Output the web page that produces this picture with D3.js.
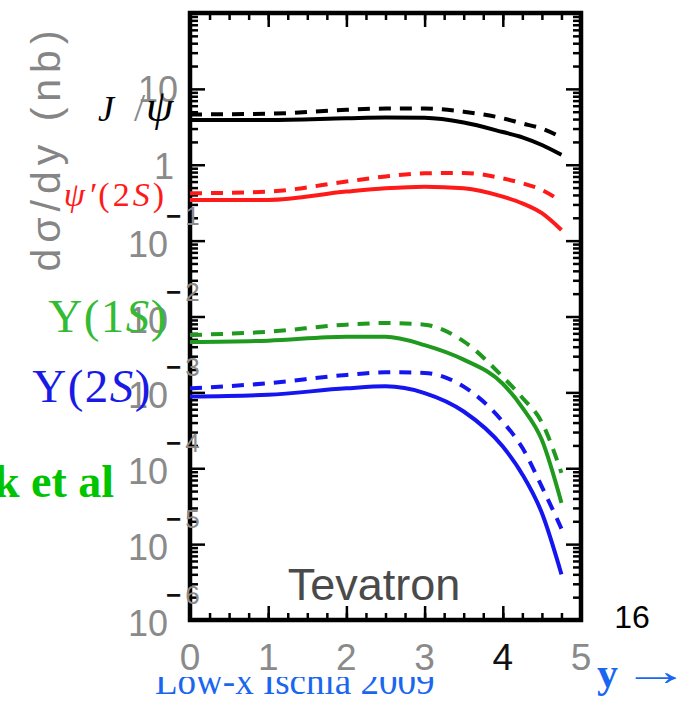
<!DOCTYPE html>
<html>
<head>
<meta charset="utf-8">
<script src="https://cdn.jsdelivr.net/npm/d3@7"></script>
<style>
  body { margin: 0; background: #fff; }
  svg { display: block; }
</style>
</head>
<body>
<svg id="chart"></svg>
<script>
// rapidity grid and d(sigma)/dy in nb
const rapidity = [0, 1, 2, 2.5, 3, 3.5, 4, 4.25, 4.5, 4.75];
const jpsiSolid = [3.9, 3.9, 4.1, 4.2, 4.15, 3.6, 2.7, 2.3, 1.82, 1.35];
const jpsiDashed = [4.6, 4.7, 5.3, 5.5, 5.5, 5.0, 4.1, 3.5, 3.0, 2.3];
const psi2sSolid = [0.344, 0.344, 0.443, 0.49, 0.514, 0.49, 0.38, 0.31, 0.23, 0.138];
const psi2sDashed = [0.42, 0.443, 0.60, 0.70, 0.77, 0.78, 0.66, 0.57, 0.466, 0.327];
const ups1sSolid = [0.0046, 0.0048, 0.0054, 0.0054, 0.0042, 0.0027, 0.0013, 6.3e-4, 2.35e-4, 3.5e-5];
const ups1sDashed = [0.0057, 0.0063, 0.0078, 0.0082, 0.0078, 0.0047, 0.0016, 8.5e-4, 4.0e-4, 8.7e-5];
const ups2sSolid = [8.8e-4, 9.3e-4, 1.13e-3, 1.2e-3, 9.8e-4, 5.6e-4, 1.93e-4, 8.3e-5, 2.57e-5, 4.0e-6];
const ups2sDashed = [1.13e-3, 1.32e-3, 1.7e-3, 1.84e-3, 1.8e-3, 1.19e-3, 4.1e-4, 1.86e-4, 5.7e-5, 1.6e-5];

const xTicks = [0, 1, 2, 3, 4, 5];
const decades = [-6, -5, -4, -3, -2, -1, 0, 1, 2];

const W = 692, H = 705;
const svg = d3.select('#chart').attr('width', W).attr('height', H);
svg.append('rect').attr('width', W).attr('height', H).attr('fill', '#fff');

const x = d3.scaleLinear().domain([0, 5]).range([190, 581]);
const y = d3.scaleLog().domain([1e-6, 1e2]).range([620, 13]);

const majorY = decades.map(d => Math.pow(10, d));
const minorY = [];
decades.slice(0, -1).forEach(d => {
  for (let k = 2; k <= 9; k++) minorY.push(k * Math.pow(10, d));
});
const minorX = d3.range(0, 5.001, 0.25);

function ticks(axis, tx, ty) {
  const g = svg.append('g').attr('transform', `translate(${tx},${ty})`).call(axis);
  g.select('.domain').remove();
  g.selectAll('line').attr('stroke', '#000').attr('stroke-width', 2.5);
  g.selectAll('text').remove();
  return g;
}

// ticks pointing inward on all four sides
ticks(d3.axisBottom(x).tickValues(minorX).tickSize(-7), 0, 620);
ticks(d3.axisBottom(x).tickValues(xTicks).tickSize(-14), 0, 620);
ticks(d3.axisTop(x).tickValues(minorX).tickSize(-7), 0, 13);
ticks(d3.axisTop(x).tickValues(xTicks).tickSize(-14), 0, 13);
ticks(d3.axisLeft(y).tickValues(minorY).tickSize(-8), 190, 0);
ticks(d3.axisLeft(y).tickValues(majorY).tickSize(-15), 190, 0);
ticks(d3.axisRight(y).tickValues(minorY).tickSize(-8), 581, 0);
ticks(d3.axisRight(y).tickValues(majorY).tickSize(-15), 581, 0);

svg.append('rect')
  .attr('x', 190).attr('y', 13)
  .attr('width', 581 - 190).attr('height', 620 - 13)
  .attr('fill', 'none').attr('stroke', '#000').attr('stroke-width', 4.5);

// x tick labels
svg.append('g').selectAll('text').data(xTicks).join('text')
  .attr('x', d => x(d)).attr('y', 670)
  .attr('text-anchor', 'middle')
  .attr('font-family', 'Liberation Sans, Arial, sans-serif')
  .attr('font-size', 37)
  .attr('fill', d => d === 4 ? '#111' : '#8a8a8a')
  .text(d => d);

// y tick labels (10 with exponent)
const yl = svg.append('g').attr('font-family', 'Liberation Sans, Arial, sans-serif');
decades.filter(d => d <= 1).forEach(d => {
  const py = y(Math.pow(10, d));
  if (d === 0) {
    yl.append('text').attr('x', 174).attr('y', py + 14).attr('text-anchor', 'end')
      .attr('font-size', 36).attr('fill', '#8a8a8a').text('1');
  } else if (d === 1) {
    yl.append('text').attr('x', 178).attr('y', py + 13).attr('text-anchor', 'end')
      .attr('font-size', 36).attr('fill', '#8a8a8a').text('10');
  } else {
    yl.append('text').attr('x', 168).attr('y', py + 16).attr('text-anchor', 'end')
      .attr('font-size', 36).attr('fill', '#8a8a8a').text('10');
    const e = yl.append('text').attr('x', 166).attr('y', py - 16).attr('font-size', 26);
    e.append('tspan').attr('fill', '#111').attr('font-weight', 'bold').text('\u2212');
    e.append('tspan').attr('dx', 4).attr('fill', '#8a8a8a').text(String(-d));
  }
});

// y axis title
svg.append('text')
  .attr('transform', 'translate(60,148) rotate(-90)')
  .attr('text-anchor', 'middle')
  .attr('font-family', 'Liberation Sans, Arial, sans-serif')
  .attr('font-size', 41)
  .attr('letter-spacing', 6)
  .attr('fill', '#858585')
  .text('d\u03c3/dy (nb)');

// curves
const series = [
  { v: jpsiDashed, c: '#000', dash: true },
  { v: jpsiSolid, c: '#000', dash: false },
  { v: psi2sDashed, c: '#ff1a1a', dash: true },
  { v: psi2sSolid, c: '#ff1a1a', dash: false },
  { v: ups1sDashed, c: '#1f9a1f', dash: true },
  { v: ups1sSolid, c: '#1f9a1f', dash: false },
  { v: ups2sDashed, c: '#1515f0', dash: true },
  { v: ups2sSolid, c: '#1515f0', dash: false }
];
const line = d3.line()
  .x((d, i) => x(rapidity[i]))
  .y(d => y(d))
  .curve(d3.curveMonotoneX);

svg.append('g').selectAll('path').data(series).join('path')
  .attr('d', d => line(d.v))
  .attr('fill', 'none')
  .attr('stroke', d => d.c)
  .attr('stroke-width', 4)
  .attr('stroke-dasharray', d => d.dash ? '12,9' : null);

// curve labels
const serif = 'Liberation Serif, Times New Roman, serif';
const jl = svg.append('text').attr('y', 121).attr('font-family', serif).attr('fill', '#000');
jl.append('tspan').attr('x', 98).attr('font-style', 'italic').attr('font-size', 36).text('J');
jl.append('tspan').attr('x', 134).attr('font-size', 40).attr('fill', '#888').text('/');
jl.append('tspan').attr('x', 146).attr('font-style', 'italic').attr('font-size', 44).text('\u03c8');

const pl = svg.append('text').attr('x', 167).attr('y', 206).attr('text-anchor', 'end')
  .attr('font-family', serif).attr('font-size', 34).attr('letter-spacing', 3).attr('fill', '#ff1a1a');
pl.append('tspan').attr('font-style', 'italic').text('\u03c8\u2032');
pl.append('tspan').text('(2');
pl.append('tspan').attr('font-style', 'italic').text('S');
pl.append('tspan').text(')');

function upsLabel(xp, yp, n, col) {
  const t = svg.append('text').attr('x', xp).attr('y', yp).attr('text-anchor', 'end')
    .attr('font-family', serif).attr('font-size', 47).attr('letter-spacing', 1.5).attr('fill', col);
  t.append('tspan').text('\u03a5(' + n);
  t.append('tspan').attr('font-style', 'italic').text('S');
  t.append('tspan').text(')');
}
upsLabel(168, 332, 1, '#33bb33');
upsLabel(152, 402, 2, '#1a1ae6');

svg.append('text')
  .attr('x', 114).attr('y', 497).attr('text-anchor', 'end')
  .attr('font-family', serif).attr('font-weight', 'bold').attr('font-size', 46)
  .attr('fill', '#00c400').text('k et al');

svg.append('text')
  .attr('x', 374).attr('y', 600).attr('text-anchor', 'middle')
  .attr('font-family', 'Liberation Sans, Arial, sans-serif')
  .attr('font-size', 45).attr('fill', '#4a4a4a').text('Tevatron');

svg.append('text')
  .attr('x', 632).attr('y', 628).attr('text-anchor', 'middle')
  .attr('font-family', 'Liberation Sans, Arial, sans-serif')
  .attr('font-size', 32).attr('fill', '#000').text('16');

// footer text partly hidden behind the plot image
svg.append('clipPath').attr('id', 'foot').append('rect')
  .attr('x', 0).attr('y', 677).attr('width', W).attr('height', 40);
svg.append('text')
  .attr('x', 155).attr('y', 694).attr('clip-path', 'url(#foot)')
  .attr('font-family', serif).attr('font-size', 37)
  .attr('fill', '#1a66f0').text('Low-x Ischia 2009');

svg.append('text').attr('x', 597).attr('y', 687)
  .attr('font-family', serif).attr('font-weight', 'bold').attr('font-size', 42)
  .attr('fill', '#1a66f0').text('y');
svg.append('text')
  .attr('transform', 'translate(656,685) scale(1.9,1.15)')
  .attr('text-anchor', 'middle')
  .attr('font-family', serif).attr('font-size', 36)
  .attr('fill', '#1a66f0').text('\u2192');
</script>
</body>
</html>
